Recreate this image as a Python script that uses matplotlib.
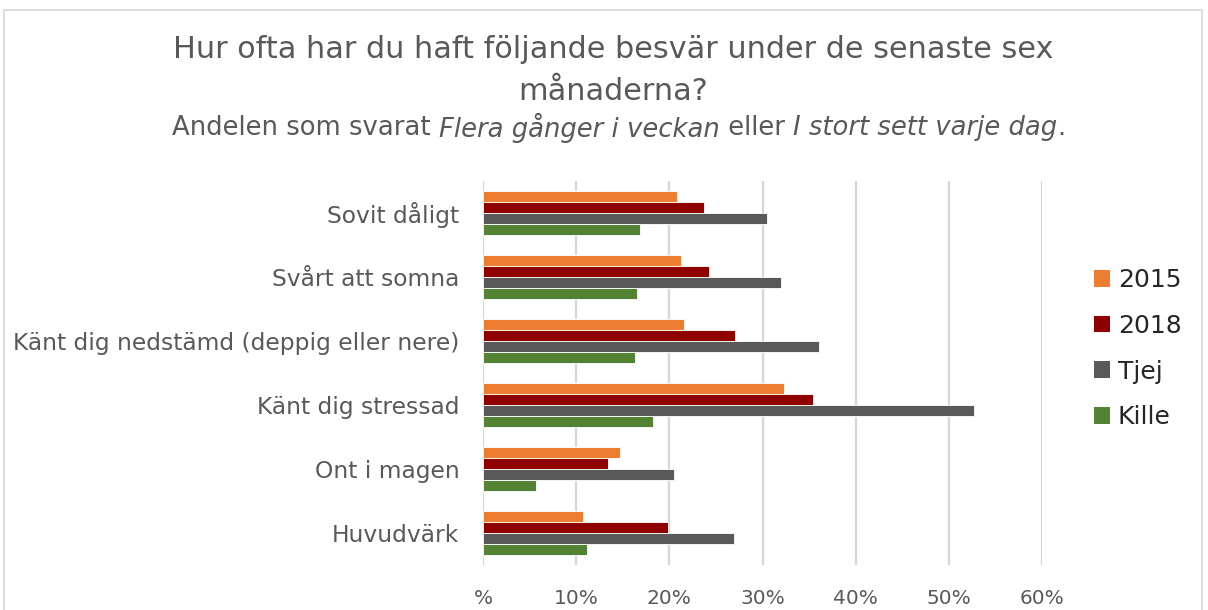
import numpy as np
import matplotlib
matplotlib.use("Agg")
import matplotlib.pyplot as plt
from matplotlib.patches import Rectangle, Patch
from matplotlib.ticker import FuncFormatter

# Data (andel i %)
kategorier = ['Sovit dåligt', 'Svårt att somna', 'Känt dig nedstämd (deppig eller nere)',
              'Känt dig stressad', 'Ont i magen', 'Huvudvärk']
serier = ['2015', '2018', 'Tjej', 'Kille']
v2015 = [20.8, 21.2, 21.6, 32.3, 14.7, 10.7]
v2018 = [23.7, 24.3, 27.1, 35.4, 13.4, 19.9]
tjej = [30.5, 32.0, 36.1, 52.7, 20.5, 26.9]
kille = [16.9, 16.5, 16.3, 18.3, 5.7, 11.2]
xticks = [0, 10, 20, 30, 40, 50, 60]

farger = ['#ED7D31', '#8F0000', '#595959', '#548235']
textfarg = '#595959'
font = 'DejaVu Sans'
plt.rcParams['font.family'] = font

W, H = 1208, 610
fig = plt.figure(figsize=(W / 100, H / 100), dpi=100)
ax = fig.add_axes([483 / W, 1 - 565 / H, (1042 - 483) / W, (565 - 181) / H])

# ram runt diagrammet
fig.patches.append(Rectangle((4 / W, -0.05), 1198 / W, 1.05 - 10 / H, transform=fig.transFigure,
                             fill=False, edgecolor='#D9D9D9', linewidth=1.3))

y = np.arange(len(kategorier))
h = 0.17
for i, (vals, c) in enumerate(zip([v2015, v2018, tjej, kille], farger)):
    ax.barh(y + (i - 1.5) * h, vals, height=h, color=c, edgecolor='white', linewidth=0.6, zorder=3)

ax.set_ylim(len(kategorier) - 0.5, -0.5)
ax.set_xlim(0, 60)
ax.set_xticks(xticks)
ax.xaxis.set_major_formatter(FuncFormatter(lambda v, p: '%' if v == 0 else f'{v:.0f}%'))
ax.set_yticks(y)
ax.set_yticklabels(kategorier)
ax.tick_params(axis='both', length=0, colors=textfarg)
ax.tick_params(axis='y', pad=17, labelsize=16.8)
ax.tick_params(axis='x', pad=17, labelsize=14.5)
ax.grid(axis='x', color='#D6D6D6', linewidth=1.6, zorder=0)
for s in ax.spines.values():
    s.set_visible(False)

# titel
fig.text(613 / W, 1 - 50 / H, 'Hur ofta har du haft följande besvär under de senaste sex',
         ha='center', va='center', fontsize=21.8, color=textfarg)
fig.text(613 / W, 1 - 92 / H, 'månaderna?', ha='center', va='center', fontsize=21.8, color=textfarg)

# undertitel med kursiva delar
delar = [('Andelen som svarat ', 'normal'), ('Flera gånger i veckan', 'italic'),
         (' eller ', 'normal'), ('I stort sett varje dag', 'italic'), ('.', 'normal')]
r = fig.canvas.get_renderer()
objs = []
for t, st in delar:
    objs.append(fig.text(0, 1 - 128 / H, t, ha='left', va='center', fontsize=18.6,
                         style=st, color=textfarg))
bredder = [o.get_window_extent(renderer=r).width for o in objs]
x0 = 619 - sum(bredder) / 2
for o, b in zip(objs, bredder):
    o.set_x(x0 / W)
    x0 += b

handles = [Patch(facecolor=c, edgecolor='none') for c in farger]
fig.legend(handles, serier, loc='upper left', bbox_to_anchor=(1094 / W, 1 - 268 / H),
           frameon=False, fontsize=18, handlelength=0.65, handleheight=0.65,
           handletextpad=0.3, labelspacing=0.87, borderpad=0, borderaxespad=0,
           labelcolor='#262626')

fig.savefig('out.png', dpi=100)
